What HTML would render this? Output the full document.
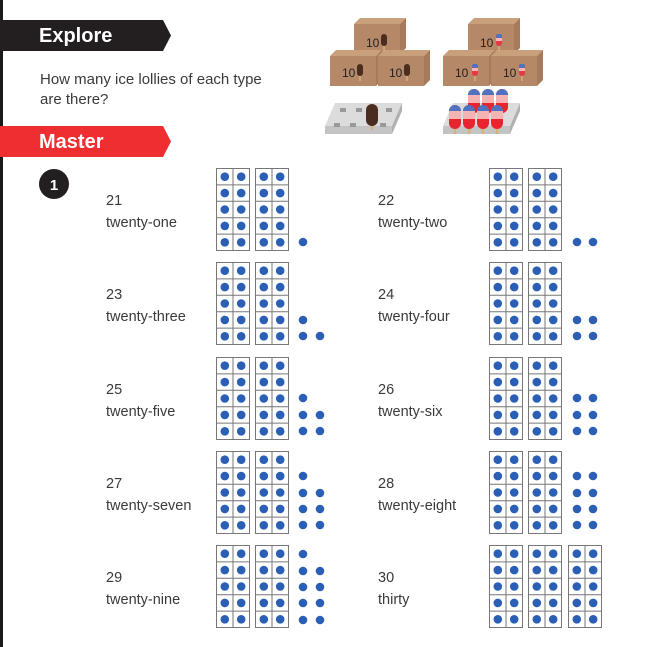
<!DOCTYPE html>
<html><head><meta charset="utf-8"><style>
html,body{margin:0;padding:0;background:#fff;}
svg{display:block;}
text{font-family:"Liberation Sans",sans-serif;}
</style></head><body>
<svg width="646" height="647" viewBox="0 0 646 647" xmlns="http://www.w3.org/2000/svg">
<defs>
<g id="f">
<rect x="0.5" y="0.5" width="33" height="82" fill="#fff" stroke="#777" stroke-width="1"/>
<line x1="17" y1="0.5" x2="17" y2="82.5" stroke="#777"/>
<line x1="0.5" y1="16.9" x2="33.5" y2="16.9" stroke="#777"/>
<line x1="0.5" y1="33.3" x2="33.5" y2="33.3" stroke="#777"/>
<line x1="0.5" y1="49.7" x2="33.5" y2="49.7" stroke="#777"/>
<line x1="0.5" y1="66.1" x2="33.5" y2="66.1" stroke="#777"/>
<g fill="#2b5fb5">
<circle cx="8.8" cy="8.7" r="4.3"/><circle cx="25.2" cy="8.7" r="4.3"/>
<circle cx="8.8" cy="25.1" r="4.3"/><circle cx="25.2" cy="25.1" r="4.3"/>
<circle cx="8.8" cy="41.5" r="4.3"/><circle cx="25.2" cy="41.5" r="4.3"/>
<circle cx="8.8" cy="57.9" r="4.3"/><circle cx="25.2" cy="57.9" r="4.3"/>
<circle cx="8.8" cy="74.3" r="4.3"/><circle cx="25.2" cy="74.3" r="4.3"/>
</g>
</g>
<g id="box">
<polygon points="0,6 6,0 52,0 46,6" fill="#c9a07c"/>
<polygon points="46,6 52,0 52,30 46,36" fill="#a87a5c"/>
<rect x="0" y="6" width="46" height="30" fill="#b58867"/>
</g>
<g id="cl"><rect x="-3" y="-9" width="6" height="12" rx="3" fill="#4a2d1e"/><rect x="-0.7" y="3" width="1.4" height="5" fill="#d9b27a"/></g>
<g id="rl"><rect x="-3" y="-9" width="6" height="12" rx="3" fill="#e63946"/><rect x="-3" y="-9" width="6" height="4" rx="2" fill="#4f73c0"/><rect x="-3" y="-5" width="6" height="3" fill="#f4b6b8"/><rect x="-0.7" y="3" width="1.4" height="5" fill="#d9b27a"/></g>
<g id="big"><rect x="-6" y="-12" width="12" height="24" rx="6" fill="#e8242f"/><path d="M-6,-6 a6,6 0 0 1 12,0 z" fill="#4f73c0"/><rect x="-6" y="-6" width="12" height="8" fill="#f5b3b3"/><rect x="-1.2" y="12" width="2.4" height="5" fill="#d9b27a"/></g>
</defs>
<rect x="0" y="0" width="3" height="647" fill="#1a1a1a"/>
<polygon points="0,20 163,20 171,35.5 163,51 0,51" fill="#231f20"/>
<text x="39" y="42" font-size="20" font-weight="bold" fill="#fff">Explore</text>
<text x="40" y="84" font-size="15" fill="#3a3a3a">How many ice lollies of each type</text>
<text x="40" y="104" font-size="15" fill="#3a3a3a">are there?</text>
<polygon points="0,126 163,126 171,141.5 163,157 0,157" fill="#ee2e31"/>
<text x="39" y="148" font-size="20" font-weight="bold" fill="#fff">Master</text>
<circle cx="54" cy="184" r="15" fill="#231f20"/>
<text x="54" y="190" font-size="15" font-weight="bold" fill="#fff" text-anchor="middle">1</text>

<use href="#box" x="354" y="18"/>
<use href="#box" x="330" y="50"/>
<use href="#box" x="378" y="50"/>
<text x="366" y="47" font-size="12" fill="#222">10</text><use href="#cl" x="384" y="43"/>
<text x="342" y="77" font-size="12" fill="#222">10</text><use href="#cl" x="360" y="73"/>
<text x="389" y="77" font-size="12" fill="#222">10</text><use href="#cl" x="407" y="73"/>
<use href="#box" x="468" y="18"/>
<use href="#box" x="443" y="50"/>
<use href="#box" x="491" y="50"/>
<text x="480" y="47" font-size="12" fill="#222">10</text><use href="#rl" x="499" y="43"/>
<text x="455" y="77" font-size="12" fill="#222">10</text><use href="#rl" x="475" y="73"/>
<text x="503" y="77" font-size="12" fill="#222">10</text><use href="#rl" x="522" y="73"/>
<polygon points="335,103 402,103 392,126 325,126" fill="#dcdcdc"/>
<rect x="325" y="126" width="67" height="8" fill="#c4c4c4"/>
<polygon points="392,126 402,103 402,111 392,134" fill="#b0b0b0"/>
<polygon points="453,103 520,103 510,126 443,126" fill="#dcdcdc"/>
<rect x="443" y="126" width="67" height="8" fill="#c4c4c4"/>
<polygon points="510,126 520,103 520,111 510,134" fill="#b0b0b0"/>
<g fill="#999"><rect x="340" y="108" width="6" height="4"/><rect x="356" y="108" width="6" height="4"/><rect x="386" y="108" width="6" height="4"/><rect x="334" y="123" width="6" height="4"/><rect x="350" y="123" width="6" height="4"/><rect x="380" y="123" width="6" height="4"/></g>
<rect x="366" y="104" width="12" height="22" rx="6" fill="#4a2d1e"/>
<rect x="371" y="126" width="2.4" height="4" fill="#d9b27a"/>
<use href="#big" x="474" y="101"/><use href="#big" x="488" y="101"/><use href="#big" x="502" y="101"/>
<use href="#big" x="455" y="117"/><use href="#big" x="469" y="117"/><use href="#big" x="483" y="117"/><use href="#big" x="497" y="117"/>

<g font-size="14.5" fill="#3a3a3a">
<text x="106" y="205">21</text><text x="106" y="227">twenty-one</text>
<text x="106" y="299">23</text><text x="106" y="321">twenty-three</text>
<text x="106" y="394">25</text><text x="106" y="416">twenty-five</text>
<text x="106" y="488">27</text><text x="106" y="510">twenty-seven</text>
<text x="106" y="582">29</text><text x="106" y="604">twenty-nine</text>
<text x="378" y="205">22</text><text x="378" y="227">twenty-two</text>
<text x="378" y="299">24</text><text x="378" y="321">twenty-four</text>
<text x="378" y="394">26</text><text x="378" y="416">twenty-six</text>
<text x="378" y="488">28</text><text x="378" y="510">twenty-eight</text>
<text x="378" y="582">30</text><text x="378" y="604">thirty</text>
</g>
<use href="#f" x="216" y="168"/><use href="#f" x="255" y="168"/>
<use href="#f" x="216" y="262"/><use href="#f" x="255" y="262"/>
<use href="#f" x="216" y="357"/><use href="#f" x="255" y="357"/>
<use href="#f" x="216" y="451"/><use href="#f" x="255" y="451"/>
<use href="#f" x="216" y="545"/><use href="#f" x="255" y="545"/>
<use href="#f" x="489" y="168"/><use href="#f" x="528" y="168"/>
<use href="#f" x="489" y="262"/><use href="#f" x="528" y="262"/>
<use href="#f" x="489" y="357"/><use href="#f" x="528" y="357"/>
<use href="#f" x="489" y="451"/><use href="#f" x="528" y="451"/>
<use href="#f" x="489" y="545"/><use href="#f" x="528" y="545"/><use href="#f" x="568" y="545"/>
<g fill="#2b5fb5">
<circle cx="303" cy="242" r="4.3"/>
<circle cx="303" cy="320" r="4.3"/><circle cx="303" cy="336" r="4.3"/><circle cx="320" cy="336" r="4.3"/>
<circle cx="303" cy="398" r="4.3"/><circle cx="303" cy="415" r="4.3"/><circle cx="320" cy="415" r="4.3"/><circle cx="303" cy="431" r="4.3"/><circle cx="320" cy="431" r="4.3"/>
<circle cx="303" cy="476" r="4.3"/><circle cx="303" cy="493" r="4.3"/><circle cx="320" cy="493" r="4.3"/><circle cx="303" cy="509" r="4.3"/><circle cx="320" cy="509" r="4.3"/><circle cx="303" cy="525" r="4.3"/><circle cx="320" cy="525" r="4.3"/>
<circle cx="303" cy="554" r="4.3"/><circle cx="303" cy="571" r="4.3"/><circle cx="320" cy="571" r="4.3"/><circle cx="303" cy="587" r="4.3"/><circle cx="320" cy="587" r="4.3"/><circle cx="303" cy="603" r="4.3"/><circle cx="320" cy="603" r="4.3"/><circle cx="303" cy="620" r="4.3"/><circle cx="320" cy="620" r="4.3"/>
<circle cx="577" cy="242" r="4.3"/><circle cx="593" cy="242" r="4.3"/>
<circle cx="577" cy="320" r="4.3"/><circle cx="593" cy="320" r="4.3"/><circle cx="577" cy="336" r="4.3"/><circle cx="593" cy="336" r="4.3"/>
<circle cx="577" cy="398" r="4.3"/><circle cx="593" cy="398" r="4.3"/><circle cx="577" cy="415" r="4.3"/><circle cx="593" cy="415" r="4.3"/><circle cx="577" cy="431" r="4.3"/><circle cx="593" cy="431" r="4.3"/>
<circle cx="577" cy="476" r="4.3"/><circle cx="593" cy="476" r="4.3"/><circle cx="577" cy="493" r="4.3"/><circle cx="593" cy="493" r="4.3"/><circle cx="577" cy="509" r="4.3"/><circle cx="593" cy="509" r="4.3"/><circle cx="577" cy="525" r="4.3"/><circle cx="593" cy="525" r="4.3"/>
</g>
</svg>
</body></html>
